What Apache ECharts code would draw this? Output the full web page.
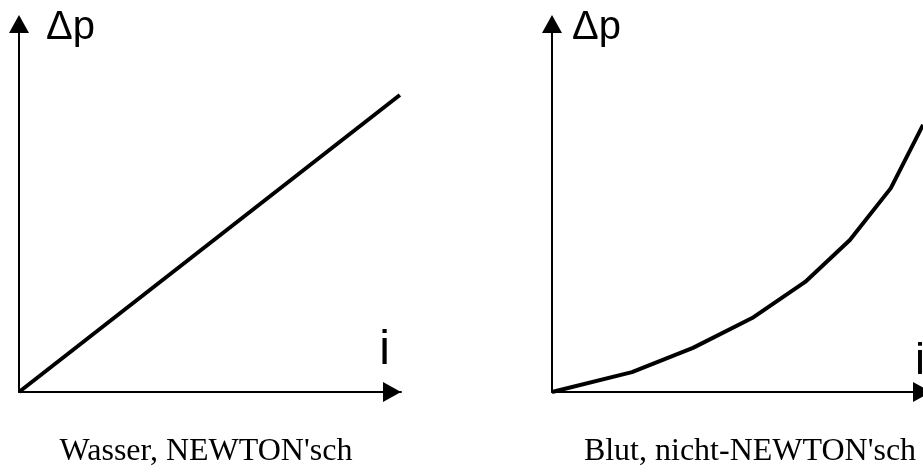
<!DOCTYPE html>
<html>
<head>
<meta charset="utf-8">
<script src="https://cdn.jsdelivr.net/npm/echarts@6/dist/echarts.min.js"></script>
<style>
html,body{margin:0;padding:0;background:#fff;}
#chart{width:923px;height:474px;}
</style>
</head>
<body>
<div id="chart"></div>
<script>
// Data (x = i, y = Δp), arbitrary units 0..100 per axis
const waterX = [0, 99.7];
const waterY = [0, 80.7];
const bloodX = [0, 21.1, 37.2, 52.8, 66.8, 78.6, 89.4, 97.9];
const bloodY = [0, 5.4, 12.0, 20.1, 29.9, 41.3, 55.4, 72.6];
const captions = ["Wasser, NEWTON'sch", "Blut, nicht-NEWTON'sch"];
const yName = "Δp";
const xName = "i";

const sans = "'Liberation Sans', Arial, sans-serif";
const serif = "'Liberation Serif', 'Times New Roman', serif";

function pairs(xs, ys) { return xs.map((x, k) => [x, ys[k]]); }

function axisLine(offsetEnd) {
  return {
    show: true,
    onZero: false,
    symbol: ['none', 'triangle'],
    symbolSize: [20, 18],
    symbolOffset: [0, offsetEnd],
    lineStyle: { color: '#000', width: 2 }
  };
}

function xAxis(gridIndex, gap, iSize, iLineHeight) {
  return {
    type: 'value', gridIndex: gridIndex, min: 0, max: 100,
    axisLine: axisLine(-9), axisTick: { show: false }, axisLabel: { show: false },
    splitLine: { show: false },
    name: xName, nameLocation: 'end', nameGap: gap, nameMoveOverlap: false,
    nameTextStyle: { fontFamily: sans, fontSize: iSize, lineHeight: iLineHeight, color: '#000', align: 'center', verticalAlign: 'bottom' }
  };
}
function yAxis(gridIndex, padLeft) {
  return {
    type: 'value', gridIndex: gridIndex, min: 0, max: 100,
    axisLine: axisLine(0), axisTick: { show: false }, axisLabel: { show: false },
    splitLine: { show: false },
    name: yName, nameLocation: 'end', nameGap: -4, nameMoveOverlap: false,
    nameTextStyle: { fontFamily: sans, fontSize: 40, color: '#000', align: 'left', verticalAlign: 'middle', padding: [0, 0, 0, padLeft] }
  };
}
// caption axes (hidden lines) carry the captions under each chart
function captionAxis(gridIndex, text, pad) {
  return {
    type: 'value', gridIndex: gridIndex, min: 0, max: 100, position: 'bottom',
    axisLine: { show: false }, axisTick: { show: false }, axisLabel: { show: false },
    splitLine: { show: false },
    name: text, nameLocation: 'middle', nameGap: 44, nameMoveOverlap: false,
    nameTextStyle: { fontFamily: serif, fontSize: 32, color: '#000', align: 'center', verticalAlign: 'top', padding: pad }
  };
}

const chart = echarts.init(document.getElementById('chart'), null, { renderer: 'canvas' });
chart.setOption({
  animation: false,
  backgroundColor: '#fff',
  grid: [
    { left: 19, top: 24, width: 382, bottom: 82, outerBoundsMode: 'none', containLabel: false },
    { left: 552, top: 24, width: 379, bottom: 82, outerBoundsMode: 'none', containLabel: false }
  ],
  xAxis: [
    xAxis(0, -16.5, 48, 83),
    xAxis(1, -11, 45, 61),
    captionAxis(0, captions[0], [0, 8, 0, 0]),
    captionAxis(1, captions[1], [0, 0, 0, 17])
  ],
  yAxis: [
    yAxis(0, 27),
    yAxis(1, 20)
  ],
  series: [
    { type: 'line', xAxisIndex: 0, yAxisIndex: 0, data: pairs(waterX, waterY), symbol: 'none',
      lineStyle: { color: '#000', width: 4 } },
    { type: 'line', xAxisIndex: 1, yAxisIndex: 1, data: pairs(bloodX, bloodY), symbol: 'none',
      lineStyle: { color: '#000', width: 4 } }
  ]
});
</script>
</body>
</html>
